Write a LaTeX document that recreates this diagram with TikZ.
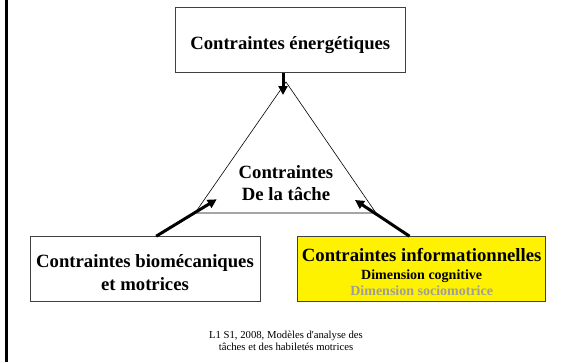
\documentclass[tikz,border=0pt]{standalone}
\usepackage{fontspec}
\setmainfont{Liberation Serif}
\newfontfamily\footfont{Liberation Serif}[Ligatures=TeXOff]
\usetikzlibrary{arrows.meta}
\begin{document}
\begin{tikzpicture}[x=1pt,y=-1pt,
  box/.style={draw=black!75,line width=1pt,inner sep=0pt},
  big/.style={font=\fontsize{18.7}{22}\selectfont\bfseries,anchor=base,inner sep=0pt},
  small/.style={font=\fontsize{14}{16}\selectfont\bfseries,anchor=base,inner sep=0pt},
  foot/.style={font=\footfont\fontsize{10.7}{12}\selectfont,anchor=base,inner sep=0pt},
  tri/.style={line width=0.6pt},
  bigarrow/.style={line width=3pt,-{Triangle[length=9pt,width=9pt]}}]
\useasboundingbox (0,0) rectangle (565,362);
% left border
\draw[line width=2.5pt] (6.7,0) -- (6.7,362);
% boxes
\node[box,minimum width=229.5pt,minimum height=65.7pt] (top) at (290.25,39.85) {};
\node[box,minimum width=230pt,minimum height=65pt] (bio) at (145,269.2) {};
\node[box,fill=yellow,minimum width=248pt,minimum height=65pt] (info) at (421.7,269.2) {};
% triangle
\coordinate (ta) at (286,82);
\coordinate (tl) at (195,213);
\coordinate (tr) at (376,213);
\draw[tri] (ta) -- (tl) -- (tr) -- cycle;
% texts
\node[big] (t1) at (290.25,49) {Contraintes énergétiques};
\node[big] (c1) at (286,178) {Contraintes};
\node[big] (c2) at (286,200.7) {De la tâche};
\node[big] (b1) at (145,267.3) {Contraintes biomécaniques};
\node[big] (b2) at (145,290) {et motrices};
\node[big] (i1) at (421.7,261.7) {Contraintes informationnelles};
\node[small] (i2) at (421.7,279) {Dimension cognitive};
\node[small,text=black!38] (i3) at (421.7,295) {Dimension sociomotrice};
\node[foot] (f1) at (286,338.3) {L1 S1, 2008, Modèles d'analyse des};
\node[foot] (f2) at (286,350) {tâches et des habiletés motrices};
% arrows
\coordinate (aT) at (283,95);
\coordinate (aL) at (216.7,199.3);
\coordinate (aR) at (355,200);
\draw[bigarrow] (top.south -| aT) -- (aT);
\draw[bigarrow] ([xshift=126.7pt]bio.north west) -- (aL);
\draw[bigarrow] ([xshift=112.3pt]info.north west) -- (aR);
\end{tikzpicture}
\end{document}
